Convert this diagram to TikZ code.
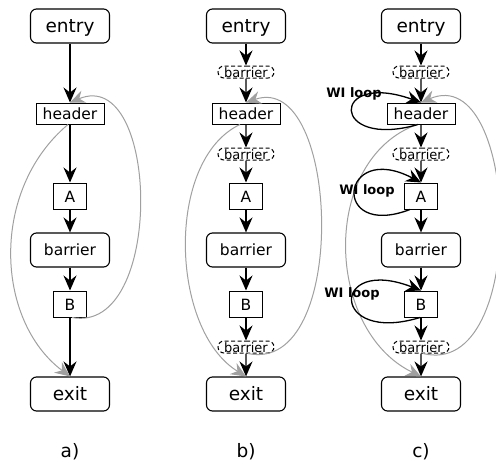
\documentclass[tikz,border=0pt]{standalone}
\usepackage{fontspec}
\setmainfont{DejaVu Sans}
\usetikzlibrary{arrows.meta,shapes.misc}
\tikzset{
  bigbox/.style={draw, rounded corners=6, minimum width=79, minimum height=34, line width=1.1, inner sep=0,
    font=\fontsize{18.5}{20}\selectfont, text height=15pt, text depth=1.6pt},
  barbox/.style={draw, rounded corners=6, minimum width=79, minimum height=34, line width=1.1, inner sep=0,
    font=\fontsize{15.5}{17}\selectfont, text height=12.5pt, text depth=1.5pt},
  hdrbox/.style={draw, rectangle, minimum width=68, minimum height=21, line width=1.0, inner sep=0,
    font=\fontsize{15.5}{17}\selectfont, text height=12pt, text depth=1pt},
  letbox/.style={draw, rectangle, minimum width=33, minimum height=26, line width=1.0, inner sep=0,
    font=\fontsize{15.5}{17}\selectfont, text height=13.5pt, text depth=0.5pt},
  dbar/.style={draw, dash pattern=on 4pt off 2.5pt, rounded rectangle, minimum width=56, minimum height=12, inner sep=0,
    line width=1.0, font=\fontsize{13}{14}\selectfont, text height=10pt, text depth=0pt},
  lbl/.style={font=\fontsize{18.5}{20}\selectfont},
  wil/.style={font=\bfseries\fontsize{13}{14}\selectfont},
  edge/.style={line width=1.3, -{Stealth[length=15pt,width=13pt,inset=5pt]}},
  back/.style={line width=1.0, draw={rgb,255:red,160;green,160;blue,160}, -{Stealth[length=15pt,width=13pt,inset=5pt,fill={rgb,255:red,160;green,160;blue,160}]}},
}
\begin{document}
\begin{tikzpicture}[x=1pt,y=-1pt]
\useasboundingbox (0,0) rectangle (496,463);
% ---------- a)
\node[bigbox] (ea) at (70,26) {entry};
\node[hdrbox] (ha) at (70,113.5) {header};
\node[letbox] (Aa) at (70,196) {A};
\node[barbox] (ba) at (70,250) {barrier};
\node[letbox] (Ba) at (70,304) {B};
\node[bigbox] (xa) at (70,394) {exit};
\node[lbl] (la) at (70,452) {a)};
\draw[edge] (ea) -- (ha);
\draw[edge] (ha) -- (Aa);
\draw[edge] (Aa) -- (ba);
\draw[edge] (ba) -- (Ba);
\draw[edge] (Ba) -- (xa);
\draw[back] ([xshift=-2]ha.south) .. controls (-10,190) and (-5,320) .. (xa.north);
\draw[back] ([xshift=2]Ba.south) .. controls (165,335) and (160,65) .. (ha.north);
% ---------- b)
\node[bigbox] (eb) at (246,26) {entry};
\node[dbar] (d1b) at (246,72) {barrier};
\node[hdrbox] (hb) at (246,113.5) {header};
\node[dbar] (d2b) at (246,154) {barrier};
\node[letbox] (Ab) at (246,196) {A};
\node[barbox] (bb) at (246,250) {barrier};
\node[letbox] (Bb) at (246,304) {B};
\node[dbar] (d3b) at (246,347) {barrier};
\node[bigbox] (xb) at (246,394) {exit};
\node[lbl] (lb) at (246,452) {b)};
\draw[edge] (eb) -- (d1b);
\draw[edge] (d1b) -- (hb);
\draw[edge] (hb) -- (d2b);
\draw[edge] (d2b) -- (Ab);
\draw[edge] (Ab) -- (bb);
\draw[edge] (bb) -- (Bb);
\draw[edge] (Bb) -- (d3b);
\draw[edge] (d3b) -- (xb);
\draw[back] ([xshift=-6]hb.south) .. controls (165,160) and (170,330) .. (xb.north);
\draw[back] ([xshift=2]d3b.south) .. controls (350,375) and (340,70) .. (hb.north);
% ---------- c)
\node[bigbox] (ec) at (421,26) {entry};
\node[dbar] (d1c) at (421,72) {barrier};
\node[hdrbox] (hc) at (421,113.5) {header};
\node[dbar] (d2c) at (421,154) {barrier};
\node[letbox] (Ac) at (421,196) {A};
\node[barbox] (bc) at (421,250) {barrier};
\node[letbox] (Bc) at (421,304) {B};
\node[dbar] (d3c) at (421,347) {barrier};
\node[bigbox] (xc) at (421,394) {exit};
\node[lbl] (lc) at (421,452) {c)};
\draw[edge] (ec) -- (d1c);
\draw[edge] (d1c) -- (hc);
\draw[edge] (hc) -- (d2c);
\draw[edge] (d2c) -- (Ac);
\draw[edge] (Ac) -- (bc);
\draw[edge] (bc) -- (Bc);
\draw[edge] (Bc) -- (d3c);
\draw[edge] (d3c) -- (xc);
\draw[back] ([xshift=-4]hc.south) .. controls (320,160) and (325,330) .. (xc.north);
\draw[back] ([xshift=2]d3c.south) .. controls (530,380) and (520,60) .. (hc.north);
\draw[edge] ([xshift=-3]hc.south) .. controls (330,150) and (330,70) .. (hc.north);
\draw[edge] ([xshift=-11]Ac.south) .. controls (330,240) and (340,140) .. (Ac.north);
\draw[edge] ([xshift=-1]Bc.south) .. controls (330,345) and (330,255) .. (Bc.north);
\node[wil] (w1) at (354,94) {WI loop};
\node[wil] (w2) at (367,191) {WI loop};
\node[wil] (w3) at (352,293.5) {WI loop};
\end{tikzpicture}
\end{document}
